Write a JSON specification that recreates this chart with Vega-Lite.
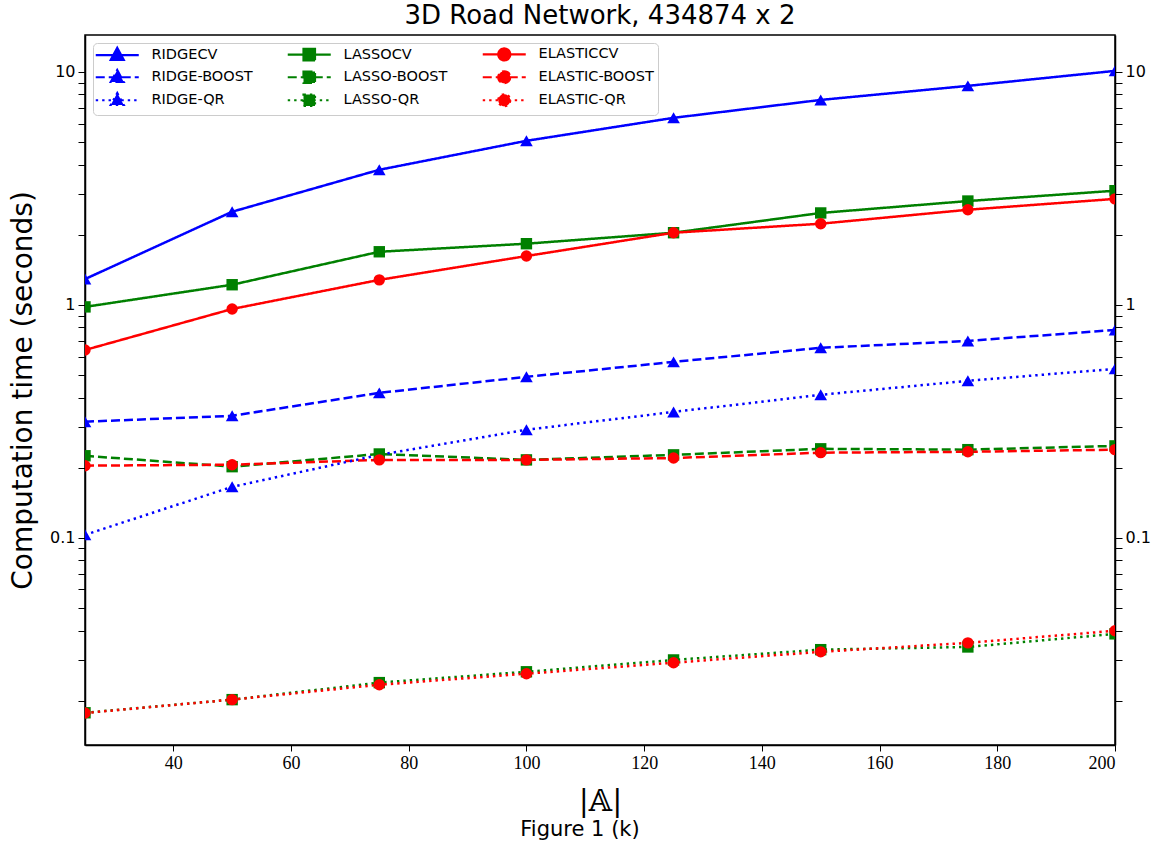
{
  "$schema": "https://vega.github.io/schema/vega-lite/v6.json",
  "background": "white",
  "padding": {"left": 8, "top": 2, "right": 2, "bottom": 5},
  "title": {"text": "Figure 1 (k)", "orient": "bottom", "anchor": "middle", "fontSize": 21, "font": "DejaVu Sans", "fontWeight": "normal", "color": "black", "offset": 2},
  "datasets": {
    "d": [
      {"x": 25, "series": "RIDGECV", "y": 1.29}, {"x": 50, "series": "RIDGECV", "y": 2.51}, {"x": 75, "series": "RIDGECV", "y": 3.8}, {"x": 100, "series": "RIDGECV", "y": 5.06}, {"x": 125, "series": "RIDGECV", "y": 6.35}, {"x": 150, "series": "RIDGECV", "y": 7.58}, {"x": 175, "series": "RIDGECV", "y": 8.71}, {"x": 200, "series": "RIDGECV", "y": 10.1},
      {"x": 25, "series": "LASSOCV", "y": 0.98}, {"x": 50, "series": "LASSOCV", "y": 1.22}, {"x": 75, "series": "LASSOCV", "y": 1.69}, {"x": 100, "series": "LASSOCV", "y": 1.83}, {"x": 125, "series": "LASSOCV", "y": 2.04}, {"x": 150, "series": "LASSOCV", "y": 2.48}, {"x": 175, "series": "LASSOCV", "y": 2.79}, {"x": 200, "series": "LASSOCV", "y": 3.09},
      {"x": 25, "series": "ELASTICCV", "y": 0.64}, {"x": 50, "series": "ELASTICCV", "y": 0.96}, {"x": 75, "series": "ELASTICCV", "y": 1.28}, {"x": 100, "series": "ELASTICCV", "y": 1.62}, {"x": 125, "series": "ELASTICCV", "y": 2.04}, {"x": 150, "series": "ELASTICCV", "y": 2.23}, {"x": 175, "series": "ELASTICCV", "y": 2.56}, {"x": 200, "series": "ELASTICCV", "y": 2.85},
      {"x": 25, "series": "RIDGE-BOOST", "y": 0.315}, {"x": 50, "series": "RIDGE-BOOST", "y": 0.334}, {"x": 75, "series": "RIDGE-BOOST", "y": 0.419}, {"x": 100, "series": "RIDGE-BOOST", "y": 0.491}, {"x": 125, "series": "RIDGE-BOOST", "y": 0.569}, {"x": 150, "series": "RIDGE-BOOST", "y": 0.654}, {"x": 175, "series": "RIDGE-BOOST", "y": 0.7}, {"x": 200, "series": "RIDGE-BOOST", "y": 0.78},
      {"x": 25, "series": "LASSO-BOOST", "y": 0.225}, {"x": 50, "series": "LASSO-BOOST", "y": 0.202}, {"x": 75, "series": "LASSO-BOOST", "y": 0.229}, {"x": 100, "series": "LASSO-BOOST", "y": 0.216}, {"x": 125, "series": "LASSO-BOOST", "y": 0.227}, {"x": 150, "series": "LASSO-BOOST", "y": 0.241}, {"x": 175, "series": "LASSO-BOOST", "y": 0.239}, {"x": 200, "series": "LASSO-BOOST", "y": 0.248},
      {"x": 25, "series": "ELASTIC-BOOST", "y": 0.204}, {"x": 50, "series": "ELASTIC-BOOST", "y": 0.206}, {"x": 75, "series": "ELASTIC-BOOST", "y": 0.216}, {"x": 100, "series": "ELASTIC-BOOST", "y": 0.216}, {"x": 125, "series": "ELASTIC-BOOST", "y": 0.22}, {"x": 150, "series": "ELASTIC-BOOST", "y": 0.232}, {"x": 175, "series": "ELASTIC-BOOST", "y": 0.234}, {"x": 200, "series": "ELASTIC-BOOST", "y": 0.239},
      {"x": 25, "series": "RIDGE-QR", "y": 0.103}, {"x": 50, "series": "RIDGE-QR", "y": 0.1655}, {"x": 75, "series": "RIDGE-QR", "y": 0.227}, {"x": 100, "series": "RIDGE-QR", "y": 0.291}, {"x": 125, "series": "RIDGE-QR", "y": 0.347}, {"x": 150, "series": "RIDGE-QR", "y": 0.411}, {"x": 175, "series": "RIDGE-QR", "y": 0.472}, {"x": 200, "series": "RIDGE-QR", "y": 0.531},
      {"x": 25, "series": "LASSO-QR", "y": 0.01774}, {"x": 50, "series": "LASSO-QR", "y": 0.0202}, {"x": 75, "series": "LASSO-QR", "y": 0.0239}, {"x": 100, "series": "LASSO-QR", "y": 0.0266}, {"x": 125, "series": "LASSO-QR", "y": 0.0299}, {"x": 150, "series": "LASSO-QR", "y": 0.0331}, {"x": 175, "series": "LASSO-QR", "y": 0.034}, {"x": 200, "series": "LASSO-QR", "y": 0.0387},
      {"x": 25, "series": "ELASTIC-QR", "y": 0.0177}, {"x": 50, "series": "ELASTIC-QR", "y": 0.0202}, {"x": 75, "series": "ELASTIC-QR", "y": 0.0234}, {"x": 100, "series": "ELASTIC-QR", "y": 0.0261}, {"x": 125, "series": "ELASTIC-QR", "y": 0.0291}, {"x": 150, "series": "ELASTIC-QR", "y": 0.0324}, {"x": 175, "series": "ELASTIC-QR", "y": 0.0354}, {"x": 200, "series": "ELASTIC-QR", "y": 0.0399}
    ]
  },
  "vconcat": [
    {
      "width": 1030,
      "height": 710,
      "title": {"text": "3D Road Network, 434874 x 2", "fontSize": 26, "font": "DejaVu Sans", "fontWeight": "normal", "color": "black", "anchor": "middle", "offset": 6},
      "data": {"name": "d"},
      "encoding": {
        "x": {"field": "x", "type": "quantitative", "scale": {"domain": [25, 200], "nice": false, "zero": false},
              "axis": {"values": [40, 60, 80, 100, 120, 140, 160, 180, 200], "title": "|𝔸|", "titleFont": "DejaVu Serif", "titleFontSize": 30, "titleFontWeight": "normal", "titleColor": "black", "titlePadding": 14,
                       "labelFont": "Liberation Serif", "labelFontSize": 18, "labelColor": "black", "tickSize": 6, "tickColor": "black", "domainColor": "black", "domainWidth": 1.5, "grid": false, "labelPadding": 3}},
        "y": {"field": "y", "type": "quantitative", "scale": {"type": "log", "domain": [0.0129, 14.4], "nice": false}},
        "color": {"field": "series", "type": "nominal",
                  "scale": {"domain": ["RIDGECV", "LASSOCV", "ELASTICCV", "RIDGE-BOOST", "LASSO-BOOST", "ELASTIC-BOOST", "RIDGE-QR", "LASSO-QR", "ELASTIC-QR"],
                            "range": ["#0000ff", "#008000", "#ff0000", "#0000ff", "#008000", "#ff0000", "#0000ff", "#008000", "#ff0000"]},
                  "legend": {"title": null, "orient": "top-left", "offset": 8, "columns": 3, "direction": "horizontal",
                             "fillColor": "white", "strokeColor": "#cccccc", "cornerRadius": 4, "padding": 4,
                             "labelFont": "DejaVu Sans", "labelFontSize": 14.5, "labelColor": "black", "rowPadding": 0, "columnPadding": 30,
                             "symbolOffset": 13, "labelOffset": 27, "symbolSize": 100,
                             "encode": {"symbols": {"update": {
                               "shape": {"signal": "test(/^RIDGE/, datum.value) ? 'M-4.3,0H4.3M0,-1.45L1.3,0.95L-1.3,0.95Z' : test(/^LASSO/, datum.value) ? 'M-4.3,0H4.3M-1.15,-1.15H1.15V1.15H-1.15Z' : 'M-4.3,0H4.3M1.2,0A1.2,1.2,0,1,1,-1.2,0A1.2,1.2,0,1,1,1.2,0Z'"},
                               "strokeDash": {"signal": "test(/CV$/, datum.value) ? [1,0] : test(/BOOST/, datum.value) ? [6,3] : [2,3]"},
                               "fill": {"scale": "color", "field": "value"},
                               "stroke": {"scale": "color", "field": "value"},
                               "strokeWidth": {"value": 2.2},
                               "opacity": {"value": 1},
                               "fillOpacity": {"value": 1},
                               "size": {"value": 100}
                             }}}}}
      },
      "layer": [
        {
          "mark": {"type": "line", "strokeWidth": 2.5, "clip": true},
          "encoding": {
            "strokeDash": {"field": "series", "type": "nominal",
                           "scale": {"domain": ["RIDGECV", "LASSOCV", "ELASTICCV", "RIDGE-BOOST", "LASSO-BOOST", "ELASTIC-BOOST", "RIDGE-QR", "LASSO-QR", "ELASTIC-QR"],
                                     "range": [[1, 0], [1, 0], [1, 0], [9, 4], [9, 4], [9, 4], [2.4, 4], [2.4, 4], [2.4, 4]]},
                           "legend": null},
            "y": {"field": "y", "type": "quantitative",
                  "axis": {"orient": "left", "title": "Computation time (seconds)", "titleFont": "DejaVu Sans", "titleFontSize": 28, "titleFontWeight": "normal", "titleColor": "black", "titlePadding": 12,
                           "values": [0.02, 0.03, 0.04, 0.05, 0.06, 0.07, 0.08, 0.09, 0.1, 0.2, 0.3, 0.4, 0.5, 0.6, 0.7, 0.8, 0.9, 1, 2, 3, 4, 5, 6, 7, 8, 9, 10],
                           "labelExpr": "datum.value == 10 ? '10' : datum.value == 1 ? '1' : datum.value == 0.1 ? '0.1' : ''",
                           "labelFont": "DejaVu Sans", "labelFontSize": 16, "labelColor": "black", "tickSize": 7, "tickColor": "black", "domainColor": "black", "domainWidth": 1.5, "grid": false, "labelPadding": 3,
                           "encode": {"ticks": {"update": {"x2": {"signal": "(datum.value == 10 || datum.value == 1 || datum.value == 0.1) ? -7 : -4"}}}}}}
          }
        },
        {
          "transform": [{"filter": {"field": "series", "oneOf": ["RIDGECV", "RIDGE-BOOST", "RIDGE-QR"]}}],
          "mark": {"type": "point", "shape": "triangle-up", "filled": true, "opacity": 1, "size": 160, "clip": true},
          "encoding": {
            "y": {"field": "y", "type": "quantitative",
                  "axis": {"orient": "right", "title": null,
                           "values": [0.02, 0.03, 0.04, 0.05, 0.06, 0.07, 0.08, 0.09, 0.1, 0.2, 0.3, 0.4, 0.5, 0.6, 0.7, 0.8, 0.9, 1, 2, 3, 4, 5, 6, 7, 8, 9, 10],
                           "labelExpr": "datum.value == 10 ? '10' : datum.value == 1 ? '1' : datum.value == 0.1 ? '0.1' : ''",
                           "labelFont": "DejaVu Sans", "labelFontSize": 16, "labelColor": "black", "tickSize": 7, "tickColor": "black", "domainColor": "black", "domainWidth": 1.5, "grid": false, "labelPadding": 3,
                           "encode": {"ticks": {"update": {"x2": {"signal": "(datum.value == 10 || datum.value == 1 || datum.value == 0.1) ? 7 : 4"}}}}}}
          }
        },
        {
          "transform": [{"filter": {"field": "series", "oneOf": ["LASSOCV", "LASSO-BOOST", "LASSO-QR"]}}],
          "mark": {"type": "point", "shape": "square", "filled": true, "opacity": 1, "size": 130, "clip": true},
          "encoding": {"y": {"field": "y", "type": "quantitative", "axis": null}}
        },
        {
          "transform": [{"filter": {"field": "series", "oneOf": ["ELASTICCV", "ELASTIC-BOOST", "ELASTIC-QR"]}}],
          "mark": {"type": "point", "shape": "circle", "filled": true, "opacity": 1, "size": 130, "clip": true},
          "encoding": {"y": {"field": "y", "type": "quantitative", "axis": null}}
        }
      ],
      "resolve": {"axis": {"y": "independent"}}
    }
  ],
  "config": {
    "view": {"stroke": "black", "strokeWidth": 1.5}
  }
}
